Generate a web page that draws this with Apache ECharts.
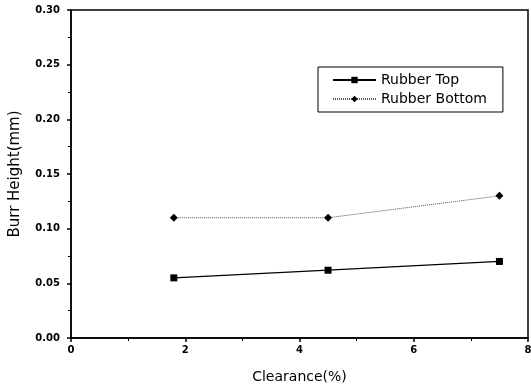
<!DOCTYPE html>
<html><head><meta charset="utf-8">
<script src="https://cdn.jsdelivr.net/npm/echarts@6/dist/echarts.min.js"></script>
<style>html,body{margin:0;padding:0;background:#fff}#c{width:531px;height:386px}</style>
</head><body><div id="c"></div>
<script>
const clearance = [1.8, 4.5, 7.5];
const rubberTop = [0.055, 0.062, 0.07];
const rubberBottom = [0.11, 0.11, 0.13];
const seriesNames = ['Rubber Top', 'Rubber Bottom'];

const chart = echarts.init(document.getElementById('c'));
const FF = 'DejaVu Sans, Arial';
const axisFont = {fontFamily: FF, fontWeight: 'bold', fontSize: 10, color: '#000'};
chart.setOption({
  animation: false,
  backgroundColor: '#fff',
  grid: {left: 71, right: 3, top: 10, bottom: 48, show: true, borderColor: '#000', borderWidth: 1.5,
         containLabel: false, outerBoundsMode: 'none'},
  legend: {
    left: 318, top: 67, orient: 'vertical', itemGap: 5,
    padding: [6, 16, 6, 14],
    borderColor: '#000', borderWidth: 1,
    itemWidth: 43, itemHeight: 8,
    textStyle: {fontFamily: FF, fontSize: 14, color: '#000'},
    data: seriesNames
  },
  xAxis: {
    type: 'value', min: 0, max: 8, interval: 2,
    name: 'Clearance(%)', nameLocation: 'middle', nameGap: 32,
    nameTextStyle: {fontFamily: FF, fontSize: 14, color: '#000'},
    axisLine: {lineStyle: {color: '#000', width: 1.5}},
    axisTick: {inside: false, length: 4, lineStyle: {color: '#000', width: 1.5}},
    minorTick: {show: true, splitNumber: 2, length: 3, lineStyle: {color: '#000', width: 1}},
    axisLabel: Object.assign({margin: 7}, axisFont),
    splitLine: {show: false}
  },
  yAxis: {
    type: 'value', min: 0, max: 0.3, interval: 0.05,
    name: 'Burr Height(mm)', nameLocation: 'middle', nameGap: 48,
    nameTextStyle: {fontFamily: FF, fontSize: 15, color: '#000'},
    axisLine: {lineStyle: {color: '#000', width: 1.5}},
    axisTick: {inside: false, length: 4, lineStyle: {color: '#000', width: 1.5}},
    minorTick: {show: true, splitNumber: 2, length: 3, lineStyle: {color: '#000', width: 1}},
    axisLabel: Object.assign({margin: 11, formatter: v => v.toFixed(2)}, axisFont),
    splitLine: {show: false}
  },
  series: [
    {
      name: seriesNames[0], type: 'line',
      data: clearance.map((x, i) => [x, rubberTop[i]]),
      symbol: 'rect', symbolSize: 7,
      itemStyle: {color: '#000'},
      lineStyle: {color: '#000', width: 1.2, type: 'solid'}
    },
    {
      name: seriesNames[1], type: 'line',
      data: clearance.map((x, i) => [x, rubberBottom[i]]),
      symbol: 'diamond', symbolSize: 8,
      itemStyle: {color: '#000'},
      lineStyle: {color: '#555', width: 1, type: [1, 1]}
    }
  ]
});
</script></body></html>
